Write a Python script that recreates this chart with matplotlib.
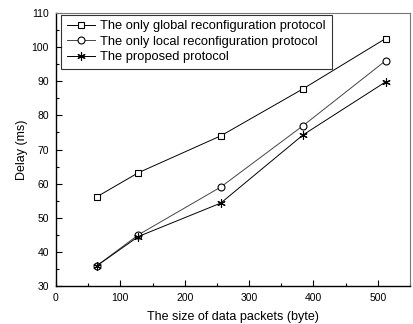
import matplotlib
matplotlib.use("Agg")
import matplotlib.pyplot as plt
from matplotlib.ticker import MultipleLocator

sizes = [64, 128, 256, 384, 512]
global_delay = [56.2, 63.2, 74.0, 87.8, 102.5]
local_delay = [36.0, 45.0, 59.0, 77.0, 96.0]
proposed_delay = [36.0, 44.5, 54.3, 74.3, 89.8]
labels = ["The only global reconfiguration protocol",
          "The only local reconfiguration protocol",
          "The proposed protocol"]

plt.rcParams['font.family'] = ['Liberation Sans', 'DejaVu Sans']
fig = plt.figure(figsize=(4.14, 3.24), dpi=100)
ax = fig.add_axes([56/414, 1 - 286/324, (410 - 56)/414, (286 - 13)/324])

ax.plot(sizes, global_delay, color='black', lw=0.7, marker='s', ms=4.2,
        mfc='white', mec='black', mew=0.8, label=labels[0])
ax.plot(sizes, local_delay, color='#444444', lw=0.7, marker='o', ms=5,
        mfc='white', mec='black', mew=0.8, label=labels[1])
ax.plot(sizes, proposed_delay, color='black', lw=0.7, marker=(6, 2, 0), ms=6,
        mec='black', mew=0.8, label=labels[2])

ax.set_xlim(0, 550)
ax.set_ylim(30, 110)
ax.xaxis.set_major_locator(MultipleLocator(100))
ax.xaxis.set_minor_locator(MultipleLocator(50))
ax.yaxis.set_major_locator(MultipleLocator(10))
ax.yaxis.set_minor_locator(MultipleLocator(5))
ax.tick_params(which='both', direction='in', top=False, right=False,
               labelsize=7.5, width=0.8)
ax.tick_params(which='major', length=4, pad=5)
ax.tick_params(which='minor', length=2.5)
for s in ['top', 'right']:
    ax.spines[s].set_color('#777777')
    ax.spines[s].set_linewidth(0.8)
for s in ['bottom', 'left']:
    ax.spines[s].set_linewidth(1.0)

ax.set_xlabel("The size of data packets (byte)", fontsize=9, labelpad=6)
ax.set_ylabel("Delay (ms)", fontsize=9, labelpad=3)

leg = ax.legend(loc='upper left', fontsize=9.3, frameon=True, fancybox=False,
                edgecolor='black', bbox_to_anchor=(0.014, 0.994),
                borderaxespad=0.0, handlelength=2.2,
                handletextpad=0.4, labelspacing=0.25, borderpad=0.45)
leg.get_frame().set_linewidth(0.8)

fig.savefig("out.png", dpi=100)
